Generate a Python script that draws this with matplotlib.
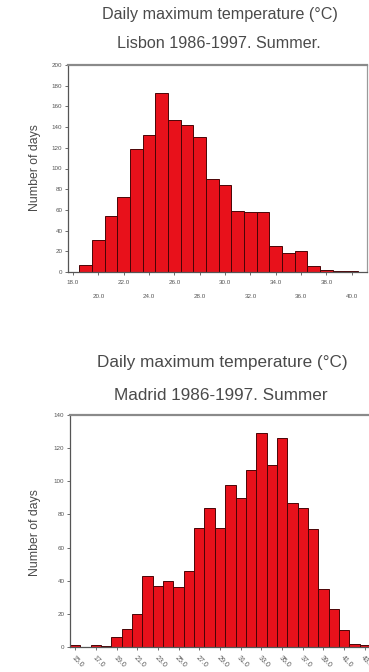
import matplotlib
matplotlib.use("Agg")
import matplotlib.pyplot as plt

plt.rcParams["font.family"] = ["Liberation Sans", "DejaVu Sans"]

# Lisbon: daily maximum temperature, 1 degree classes centred on whole degrees
lisbon_centres = list(range(19, 41))
lisbon_days = [7, 31, 54, 72, 119, 132, 173, 147, 142, 130, 90,
               84, 59, 58, 58, 25, 18, 20, 6, 2, 1, 0.5]
lisbon_ticks = [18, 20, 22, 24, 26, 28, 30, 32, 34, 36, 38, 40]
lisbon_yticks = list(range(0, 201, 20))

# Madrid: same classes, 15..43
madrid_centres = list(range(15, 44))
madrid_days = [1, 0, 1, 0.5, 6, 11, 20, 43, 37, 40, 36, 46, 72, 84, 72,
               98, 90, 107, 129, 110, 126, 87, 84, 71, 35, 23, 10, 2, 1]
madrid_ticks = list(range(15, 44, 2))
madrid_yticks = list(range(0, 141, 20))

W, H = 369, 672
BAR = "#e8111b"
EDGE = "#4a0406"
TXT = "#4a4a4a"


def px_axes(fig, left, top, right, bottom):
    return fig.add_axes([left / W, 1 - bottom / H, (right - left) / W, (bottom - top) / H])


def style(ax):
    for s in ax.spines.values():
        s.set_color("#555555")
        s.set_linewidth(0.9)
    ax.spines["top"].set_color("#8a8a8a")
    ax.spines["top"].set_linewidth(1.6)
    ax.spines["right"].set_color("#9a9a9a")
    ax.tick_params(length=2.5, width=0.6, pad=1.5, colors="#555555",
                   labelsize=4.5, labelcolor="#555555")


fig = plt.figure(figsize=(W / 100, H / 100), dpi=100)

# --- Lisbon ---
ax1 = px_axes(fig, 68, 65, 367, 272)
ax1.bar(lisbon_centres, lisbon_days, width=1.0, color=BAR, edgecolor=EDGE, linewidth=0.7)
ax1.set_xlim(17.6, 41.2)
ax1.set_ylim(0, 200)
ax1.set_yticks(lisbon_yticks)
ax1.set_xticks(lisbon_ticks)
ax1.set_xticklabels([f"{t:.1f}" if i % 2 == 0 else f"\n\n{t:.1f}"
                     for i, t in enumerate(lisbon_ticks)], linespacing=1.55)
style(ax1)
ax1.tick_params(axis="x", pad=3)

fig.text(220 / W, 1 - 15 / H, "Daily maximum temperature (\u00b0C)", ha="center", va="center",
         fontsize=11.6, color=TXT)
fig.text(219 / W, 1 - 43 / H, "Lisbon 1986-1997. Summer.", ha="center", va="center",
         fontsize=11.6, color=TXT)
fig.text(35 / W, 1 - 168 / H, "Number of days", rotation=90, ha="center", va="center",
         fontsize=8.8, color=TXT)

# --- Madrid ---
ax2 = px_axes(fig, 70, 415, 370, 647)
ax2.bar(madrid_centres, madrid_days, width=1.0, color=BAR, edgecolor=EDGE, linewidth=0.7)
ax2.set_xlim(14.5, 43.5)
ax2.set_ylim(0, 140)
ax2.set_yticks(madrid_yticks)
ax2.set_xticks(madrid_ticks)
ax2.set_xticklabels([f"{t:.1f}" for t in madrid_ticks], rotation=-45,
                    ha="left", va="top", rotation_mode="anchor")
style(ax2)
ax2.tick_params(axis="x", pad=3, labelsize=5)

fig.text(222 / W, 1 - 362 / H, "Daily maximum temperature (\u00b0C)", ha="center", va="center",
         fontsize=12.3, color=TXT)
fig.text(221 / W, 1 - 395 / H, "Madrid 1986-1997. Summer", ha="center", va="center",
         fontsize=12.3, color=TXT)
fig.text(35 / W, 1 - 533 / H, "Number of days", rotation=90, ha="center", va="center",
         fontsize=8.8, color=TXT)

fig.savefig("out.png", dpi=100, facecolor="white")
